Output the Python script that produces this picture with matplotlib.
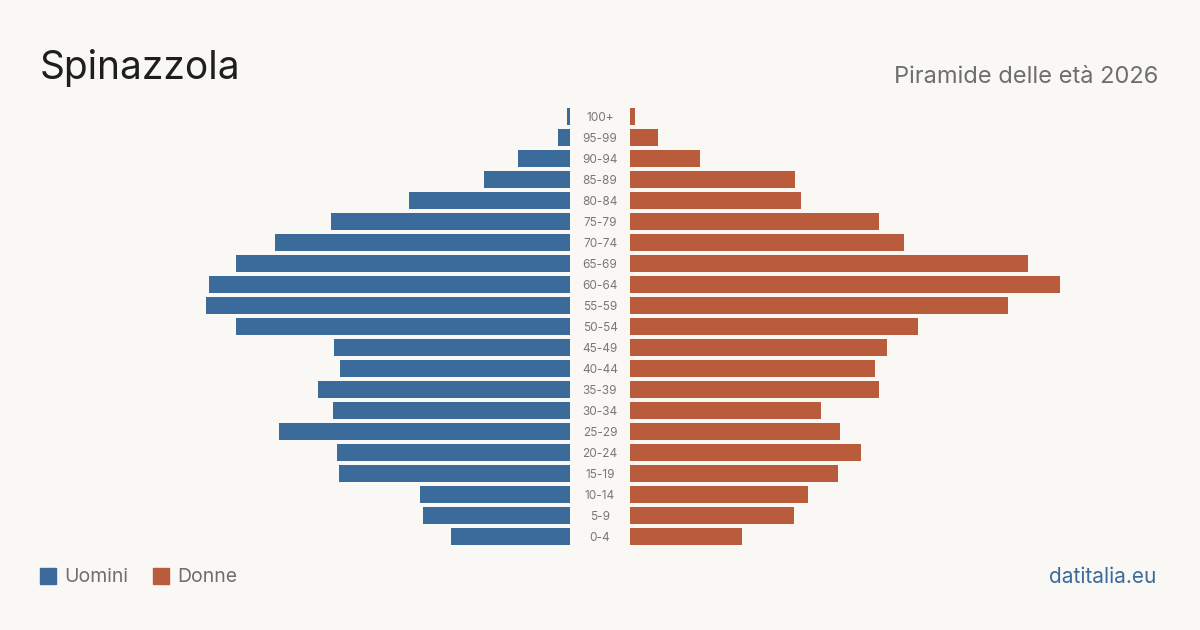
import matplotlib
matplotlib.use("Agg")
import matplotlib.pyplot as plt
from matplotlib.patches import Rectangle

# age classes, bottom to top
ages = ["0-4", "5-9", "10-14", "15-19", "20-24", "25-29", "30-34", "35-39",
        "40-44", "45-49", "50-54", "55-59", "60-64", "65-69", "70-74",
        "75-79", "80-84", "85-89", "90-94", "95-99", "100+"]
# bar lengths (arbitrary units)
uomini = [119, 147, 150, 231, 233, 291, 237, 252, 230, 236, 334, 364, 361,
          334, 295, 239, 161, 86, 52, 12, 3]
donne = [112, 164, 178, 208, 231, 210, 191, 249, 245, 257, 288, 378, 430,
         398, 274, 249, 171, 165, 70, 28, 5]

BG = "#f9f8f4"
BLUE = "#3b6b9b"
RED = "#b85c3c"
FONT = ["Inter", "DejaVu Sans"]

W, H = 1200, 630
fig = plt.figure(figsize=(W / 100, H / 100), dpi=100, facecolor=BG)
plt.rcParams["font.family"] = FONT

# axes in pixel-like units so the gap around the labels stays fixed
n = len(ages)
top_px, pitch = 106, 21
ax = fig.add_axes([0, (H - top_px - n * pitch) / H, 1, n * pitch / H])
ax.set_facecolor(BG)
ax.set_xlim(-600, 600)
ax.set_ylim(-0.5, n - 0.5)
ax.axis("off")

gap = 30
ypos = list(range(n))
ax.barh(ypos, [-v for v in uomini], left=-gap, height=0.81, color=BLUE)
ax.barh(ypos, donne, left=gap, height=0.81, color=RED)
for y, lab in zip(ypos, ages):
    ax.text(0, y - 0.08, lab, ha="center", va="center", fontsize=8.5,
            color="#777777")

# title / subtitle
fig.text(40 / W, 1 - 68 / H, "Spinazzola", fontsize=28, color="#1e1e1e",
         va="center", ha="left")
fig.text(1158 / W, 1 - 77 / H, "Piramide delle età 2026", fontsize=17,
         color="#6e6e6e", va="center", ha="right")

# legend
for x0, col, lab in [(40, BLUE, "Uomini"), (153, RED, "Donne")]:
    fig.patches.append(Rectangle((x0 / W, 1 - 584 / H), 16 / W, 16 / H,
                                 transform=fig.transFigure, color=col))
    fig.text((x0 + 24) / W, 1 - 577 / H, lab, fontsize=14, color="#6e6e6e",
             va="center", ha="left")

fig.text(1156 / W, 1 - 577 / H, "datitalia.eu", fontsize=15, color=BLUE,
         va="center", ha="right")

fig.savefig("out.png", dpi=100, facecolor=BG)
